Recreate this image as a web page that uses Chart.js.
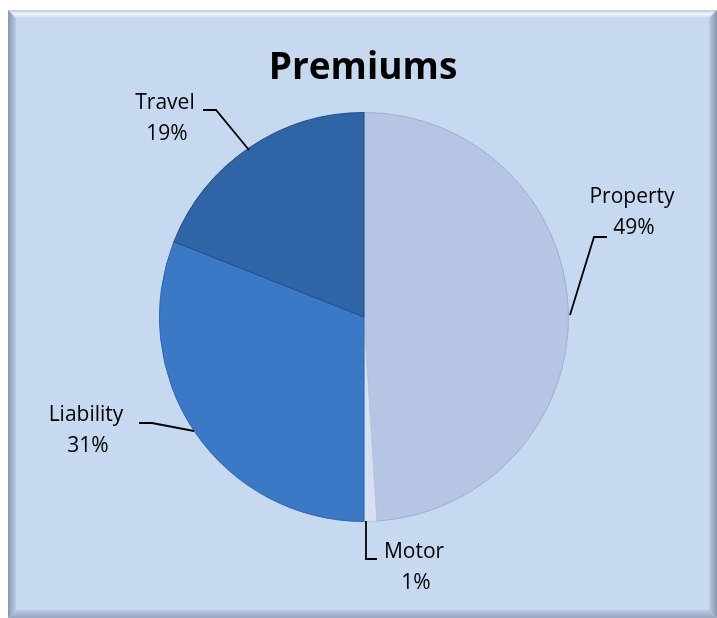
<!DOCTYPE html>
<html>
<head>
<meta charset="utf-8">
<script src="https://cdn.jsdelivr.net/npm/chart.js@4.4.0/dist/chart.umd.min.js"></script>
<style>
  html, body { margin: 0; padding: 0; background: #ffffff; }
  #wrap { width: 717px; height: 618px; position: relative; }
</style>
</head>
<body>
<div id="wrap"><canvas id="canvas" width="717" height="618"></canvas></div>
<script>
const categories = ["Property", "Motor", "Liability", "Travel"];
const shares = [49, 1, 31, 19];
const sliceColors = ["#b5c5e3", "#d6e0f1", "#3b79c7", "#2f64a7"];
const chartTitle = "Premiums";

// label anchor: text centre, and leader line points (edge -> elbow -> end)
const labelSpots = [
  { x: 632, y: 197, line: [[570, 315], [594, 237], [607, 237]] },
  { x: 414, y: 552, line: [[366, 521], [366, 559], [377, 559]] },
  { x: 86, y: 415, line: [[194, 431], [152, 423], [139, 423]] },
  { x: 165, y: 103, line: [[249, 150], [216, 110], [203, 110]] },
];

const canvas = document.getElementById("canvas");
const ctx = canvas.getContext("2d");

const frame = {
  id: "frame",
  beforeDraw(chart) {
    const c = chart.ctx;
    const x0 = 8, y0 = 10, x1 = 717, y1 = 618, b = 8;
    c.save();
    c.fillStyle = "#c6d9f1";
    c.fillRect(x0, y0, x1 - x0, y1 - y0);
    // bevel edges
    let g = c.createLinearGradient(0, y0, 0, y0 + b);
    g.addColorStop(0, "#b8cbe4");
    g.addColorStop(0.5, "#f2f7fd");
    g.addColorStop(1, "#c6d9f1");
    c.fillStyle = g;
    c.beginPath();
    c.moveTo(x0, y0); c.lineTo(x1, y0); c.lineTo(x1 - b, y0 + b); c.lineTo(x0 + b, y0 + b);
    c.closePath(); c.fill();
    g = c.createLinearGradient(x0, 0, x0 + b, 0);
    g.addColorStop(0, "#8796ad");
    g.addColorStop(1, "#b9cce6");
    c.fillStyle = g;
    c.beginPath();
    c.moveTo(x0, y0); c.lineTo(x0 + b, y0 + b); c.lineTo(x0 + b, y1 - b); c.lineTo(x0, y1);
    c.closePath(); c.fill();
    g = c.createLinearGradient(x1 - b, 0, x1, 0);
    g.addColorStop(0, "#b9cce6");
    g.addColorStop(1, "#8796ad");
    c.fillStyle = g;
    c.beginPath();
    c.moveTo(x1, y0); c.lineTo(x1 - b, y0 + b); c.lineTo(x1 - b, y1 - b); c.lineTo(x1, y1);
    c.closePath(); c.fill();
    g = c.createLinearGradient(0, y1 - b, 0, y1);
    g.addColorStop(0, "#b9cce6");
    g.addColorStop(1, "#96a6bd");
    c.fillStyle = g;
    c.beginPath();
    c.moveTo(x0, y1); c.lineTo(x0 + b, y1 - b); c.lineTo(x1 - b, y1 - b); c.lineTo(x1, y1);
    c.closePath(); c.fill();
    c.restore();
  },
  afterDraw(chart) {
    const c = chart.ctx;
    c.save();
    c.fillStyle = "#000";
    c.textAlign = "center";
    c.textBaseline = "middle";
    c.font = "bold 37px 'Open Sans', sans-serif";
    c.fillText(chartTitle, 363, 68);

    c.font = "21px 'Open Sans', sans-serif";
    c.strokeStyle = "#000";
    c.lineWidth = 1.8;
    labelSpots.forEach((s, i) => {
      c.beginPath();
      s.line.forEach((p, k) => (k ? c.lineTo(p[0], p[1]) : c.moveTo(p[0], p[1])));
      c.stroke();
      c.fillText(categories[i], s.x, s.y);
      c.fillText(shares[i] + "%", s.x + 2, s.y + 31);
    });
    c.restore();
  },
};

new Chart(ctx, {
  type: "pie",
  data: {
    labels: categories,
    datasets: [
      {
        data: shares,
        backgroundColor: sliceColors,
        borderColor: ["#9fb0d0", "#b9c8e0", "#2f66ad", "#234f88"],
        borderWidth: 1,
      },
    ],
  },
  options: {
    responsive: false,
    animation: false,
    layout: { padding: { top: 112, bottom: 96, left: 159, right: 148 } },
    plugins: {
      legend: { display: false },
      tooltip: { enabled: false },
      title: { display: false },
    },
  },
  plugins: [frame],
});
</script>
</body>
</html>
